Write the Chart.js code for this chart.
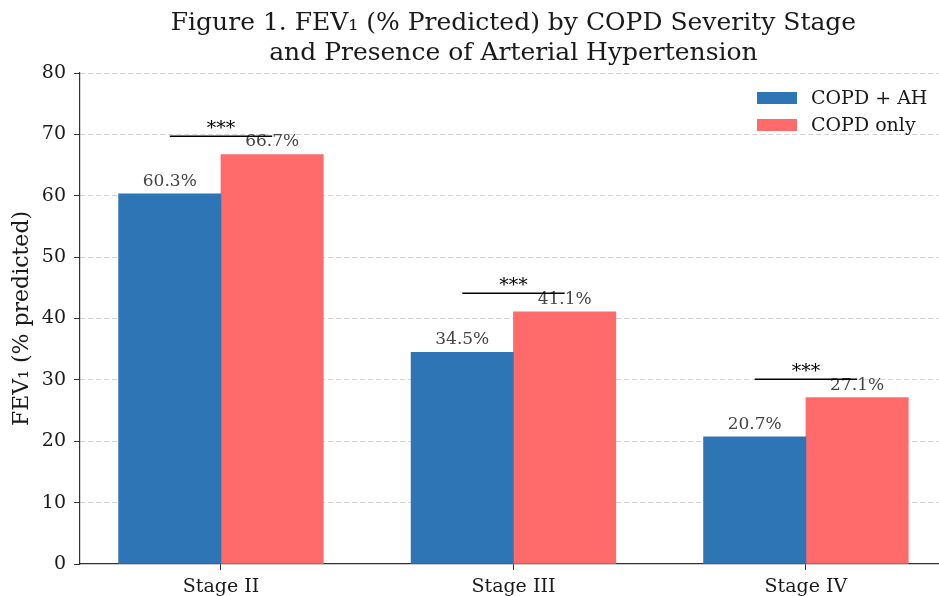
<!DOCTYPE html>
<html>
<head>
<meta charset="utf-8">
<script src="https://cdn.jsdelivr.net/npm/chart.js@4.4.1/dist/chart.umd.min.js"></script>
<style>
  html, body { margin: 0; padding: 0; background: #ffffff; overflow: hidden; }
  #wrap { width: 939px; height: 596px; position: relative; }
</style>
</head>
<body>
<div id="wrap"><canvas id="c" width="939" height="596"></canvas></div>
<script>
// COPD severity stages and mean FEV1 (% predicted) per group
const categories = ['Stage II', 'Stage III', 'Stage IV'];
const copdWithAH = [60.3, 34.5, 20.7];
const copdOnly = [66.7, 41.1, 27.1];
const significance = ['***', '***', '***'];
const seriesLabels = ['COPD + AH', 'COPD only'];
const yTicks = [0, 10, 20, 30, 40, 50, 60, 70, 80];
const titleLines = ['Figure 1. FEV\u2081 (% Predicted) by COPD Severity Stage', 'and Presence of Arterial Hypertension'];

const SERIF = "'DejaVu Serif', 'Liberation Serif', serif";
const BAR_W = 0.35;           // bar width in category units
const X_MIN = -0.482, X_MAX = 2.455;
const COLORS = ['#2E75B6', '#FF6B6B'];

const toPoints = (vals, shift) => vals.map((v, i) => ({ x: i + shift, y: v }));

// title centred over the axes' symmetric span (middle category)
const axesTitle = {
  id: 'axesTitle',
  afterDraw(chart) {
    const ctx = chart.ctx;
    const cx = chart.scales.x.getPixelForValue((categories.length - 1) / 2);
    ctx.save();
    ctx.font = `25px ${SERIF}`;
    ctx.fillStyle = '#1a1a1a';
    ctx.textAlign = 'center';
    ctx.textBaseline = 'middle';
    titleLines.forEach((t, i) => ctx.fillText(t, cx, 23 + i * 30));
    ctx.restore();
  }
};

// value labels above each bar + significance brackets + legend
const annotate = {
  id: 'annotate',
  afterDatasetsDraw(chart) {
    const ctx = chart.ctx;
    const y = chart.scales.y;
    ctx.save();
    // value labels
    ctx.font = `17px ${SERIF}`;
    ctx.fillStyle = '#444444';
    ctx.textAlign = 'center';
    ctx.textBaseline = 'alphabetic';
    chart.data.datasets.forEach((ds, di) => {
      const meta = chart.getDatasetMeta(di);
      meta.data.forEach((bar, i) => {
        const v = ds.data[i].y;
        ctx.fillText(v.toFixed(1) + '%', bar.x, y.getPixelForValue(v + 1) - 2);
      });
    });
    // significance markers
    const mA = chart.getDatasetMeta(0), mB = chart.getDatasetMeta(1);
    categories.forEach((c, i) => {
      const top = Math.max(copdWithAH[i], copdOnly[i]) + 3;
      const py = y.getPixelForValue(top);
      const x1 = mA.data[i].x, x2 = mB.data[i].x;
      ctx.strokeStyle = '#000000';
      ctx.lineWidth = 1.5;
      ctx.beginPath();
      ctx.moveTo(x1, py);
      ctx.lineTo(x2, py);
      ctx.stroke();
      ctx.fillStyle = '#000000';
      ctx.font = `19px ${SERIF}`;
      ctx.fillText(significance[i], (x1 + x2) / 2, py - 2);
    });
    // legend
    ctx.font = `19px ${SERIF}`;
    ctx.textAlign = 'left';
    ctx.textBaseline = 'middle';
    seriesLabels.forEach((lab, i) => {
      const cy = 98 + i * 27;
      ctx.fillStyle = COLORS[i];
      ctx.fillRect(757, cy - 6, 40, 12);
      ctx.fillStyle = '#1a1a1a';
      ctx.fillText(lab, 811, cy + 1);
    });
    ctx.restore();
  }
};

new Chart(document.getElementById('c'), {
  type: 'bar',
  data: {
    datasets: [
      { label: seriesLabels[0], data: toPoints(copdWithAH, -BAR_W / 2), backgroundColor: COLORS[0] },
      { label: seriesLabels[1], data: toPoints(copdOnly, BAR_W / 2), backgroundColor: COLORS[1] }
    ]
  },
  options: {
    responsive: false,
    animation: false,
    devicePixelRatio: 1,
    layout: { padding: { left: 0, right: 0, top: 73, bottom: 0 } },
    datasets: { bar: { grouped: false, barPercentage: 1, categoryPercentage: 1, borderWidth: 0 } },
    plugins: {
      legend: { display: false },
      tooltip: { enabled: false },
      title: { display: false }
    },
    scales: {
      x: {
        type: 'linear',
        offset: false,
        min: X_MIN,
        max: X_MAX,
        afterBuildTicks: (s) => { s.ticks = categories.map((c, i) => ({ value: i })); },
        afterFit: (s) => { s.height = 32; },
        ticks: {
          callback: (v) => categories[v],
          color: '#1a1a1a',
          font: { family: SERIF, size: 19 },
          padding: 6,
          maxRotation: 0,
          autoSkip: false
        },
        grid: { offset: false, drawOnChartArea: false, drawTicks: true, tickLength: 6, tickColor: '#333333', tickWidth: 1 },
        border: { display: true, color: '#333333', width: 1.2 }
      },
      y: {
        min: 0,
        max: 80,
        afterBuildTicks: (s) => { s.ticks = yTicks.map(v => ({ value: v })); },
        afterFit: (s) => { s.width = 80; },
        ticks: {
          color: '#1a1a1a',
          font: { family: SERIF, size: 19 },
          padding: 8
        },
        grid: {
          color: (c) => c.tick && c.tick.value === 0 ? 'rgba(0,0,0,0)' : '#d5d5d5',
          lineWidth: 1,
          drawTicks: true,
          tickLength: 6,
          tickColor: '#333333',
          tickWidth: 1,
          tickBorderDash: []
        },
        border: { display: true, color: '#333333', width: 1.2, dash: [5, 3] },
        title: {
          display: true,
          text: 'FEV\u2081 (% predicted)',
          color: '#1a1a1a',
          font: { family: SERIF, size: 22 },
          padding: { top: 9, bottom: 0 }
        }
      }
    }
  },
  plugins: [annotate, axesTitle]
});
</script>
</body>
</html>
